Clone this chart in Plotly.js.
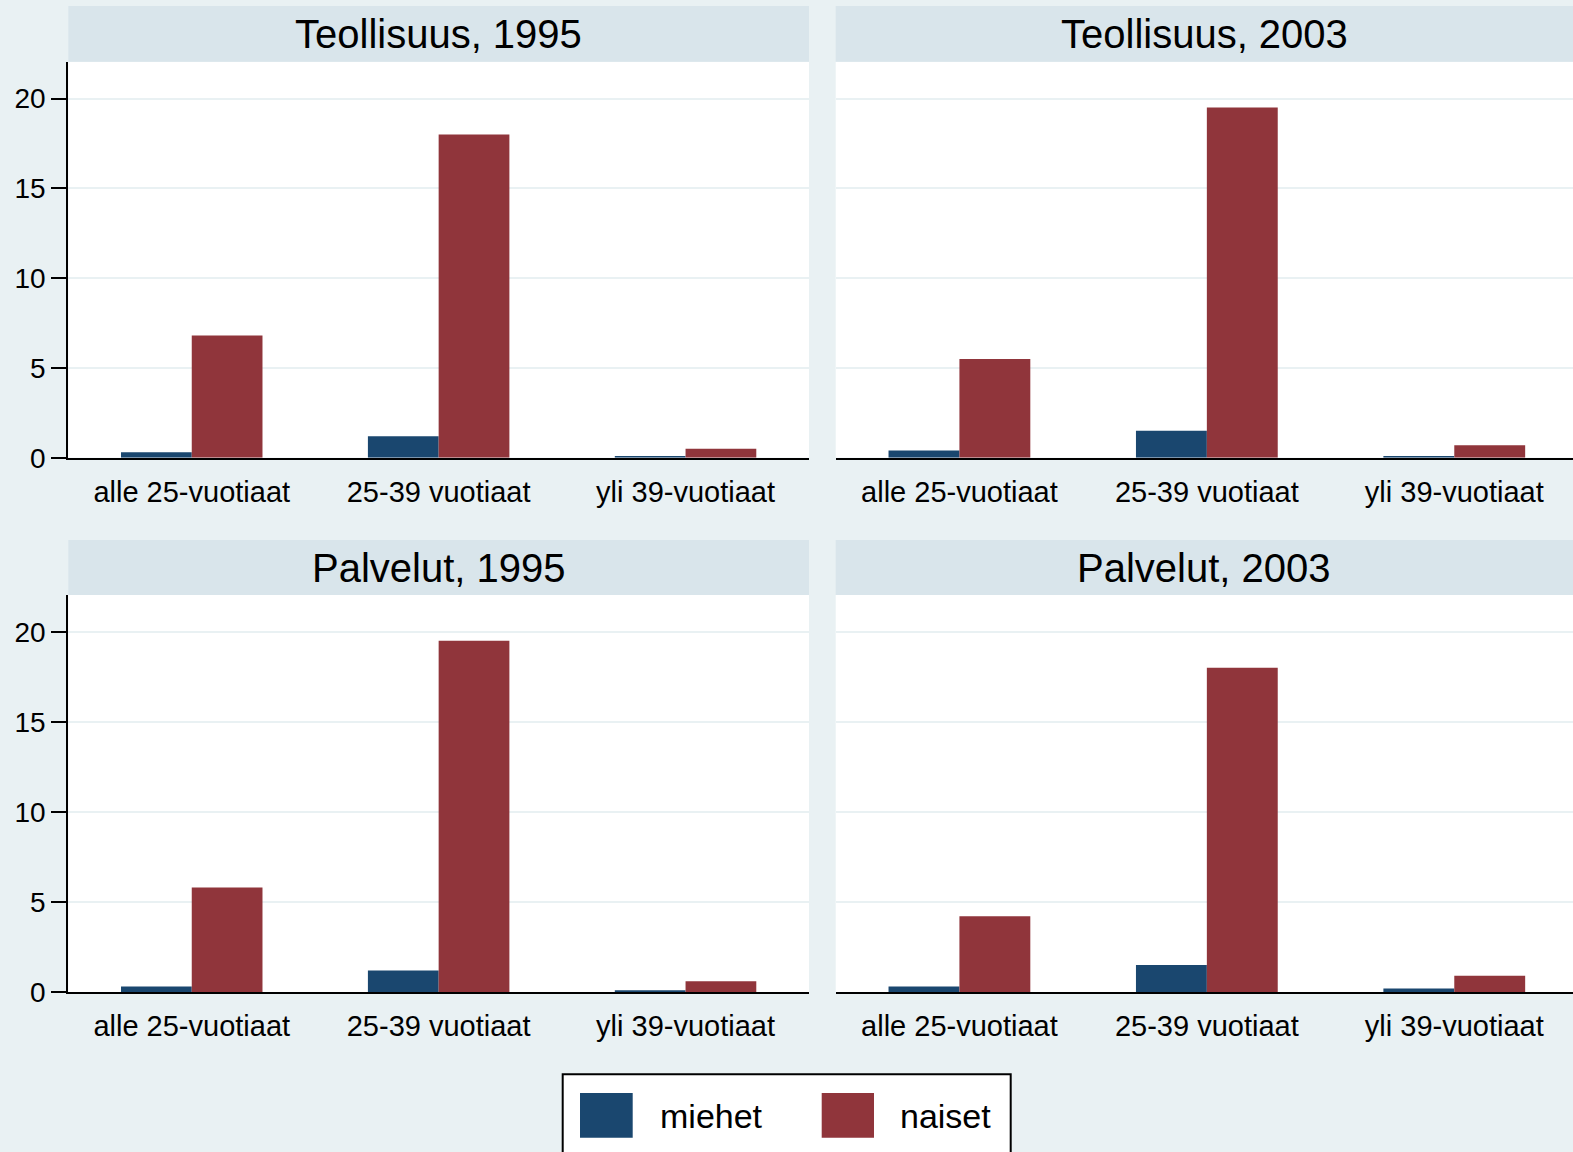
<!DOCTYPE html>
<html>
<head>
<meta charset="utf-8">
<script src="https://cdn.plot.ly/plotly-3.0.1.min.js"></script>
<style>html,body{margin:0;padding:0;background:#e9f1f3;overflow:hidden;}#chart{width:1578px;height:1152px;}</style>
</head>
<body>
<div id="chart"></div>
<script>
// ---- data ----
const categories = ['alle 25-vuotiaat', '25-39 vuotiaat', 'yli 39-vuotiaat'];
const panelTitles = ['Teollisuus, 1995', 'Teollisuus, 2003', 'Palvelut, 1995', 'Palvelut, 2003'];
const seriesNames = ['miehet', 'naiset'];
const miehet_T1995 = [0.3, 1.2, 0.1];
const naiset_T1995 = [6.8, 18.0, 0.5];
const miehet_T2003 = [0.4, 1.5, 0.1];
const naiset_T2003 = [5.5, 19.5, 0.7];
const miehet_P1995 = [0.3, 1.2, 0.1];
const naiset_P1995 = [5.8, 19.5, 0.6];
const miehet_P2003 = [0.3, 1.5, 0.2];
const naiset_P2003 = [4.2, 18.0, 0.9];
const yTickVals = [0, 5, 10, 15, 20];

// ---- style ----
const W = 1578, H = 1152;   // right panel runs slightly past the visible window
const FONT = 'Liberation Sans, Arial, sans-serif';
const COL_M = '#1a476f', COL_N = '#90353b';
const BG = '#e9f1f3', HEADER = '#d9e5eb', GRID = '#e9f1f3';

const px = v => v / W;
const py = v => 1 - v / H;

const xDomains = [[px(68.3), px(809)], [px(835.7), 1], [px(68.3), px(809)], [px(835.7), 1]];
const yDomains = [[py(457.7), py(62)], [py(457.7), py(62)], [py(992), py(595)], [py(992), py(595)]];
const headerY = [[py(61.7), py(6)], [py(61.7), py(6)], [py(595), py(540)], [py(595), py(540)]];

const panelData = [
  [miehet_T1995, naiset_T1995],
  [miehet_T2003, naiset_T2003],
  [miehet_P1995, naiset_P1995],
  [miehet_P2003, naiset_P2003]
];
const colors = [COL_M, COL_N];

const traces = [];
panelData.forEach((pair, i) => {
  const ax = i === 0 ? '' : String(i + 1);
  pair.forEach((vals, s) => {
    traces.push({
      type: 'bar',
      x: categories,
      y: vals,
      name: seriesNames[s],
      marker: {color: colors[s], line: {width: 0}},
      xaxis: 'x' + ax,
      yaxis: 'y' + ax,
      showlegend: false,
      hoverinfo: 'skip'
    });
  });
});

const layout = {
  width: W, height: H,
  margin: {l: 0, r: 0, t: 0, b: 0},
  paper_bgcolor: BG,
  plot_bgcolor: '#ffffff',
  barmode: 'group',
  bargap: 0.427,
  bargroupgap: 0,
  showlegend: false,
  font: {family: FONT, color: '#000'},
  shapes: [],
  annotations: []
};

for (let i = 0; i < 4; i++) {
  const ax = i === 0 ? '' : String(i + 1);
  const left = (i % 2 === 0);
  layout['xaxis' + ax] = {
    domain: xDomains[i],
    anchor: 'y' + ax,
    type: 'category',
    range: [-0.5, 2.5],
    showline: true, linecolor: '#000', linewidth: 2,
    ticks: '', showgrid: false, zeroline: false,
    ticklabelstandoff: 7,
    tickfont: {family: FONT, size: 29, color: '#000'},
    fixedrange: true
  };
  layout['yaxis' + ax] = {
    domain: yDomains[i],
    anchor: 'x' + ax,
    range: [0, 22.04],
    tickvals: yTickVals,
    showticklabels: left,
    ticks: left ? 'outside' : '',
    ticklen: 15, tickwidth: 2, tickcolor: '#000',
    showline: left, linecolor: '#000', linewidth: 2,
    showgrid: true, gridcolor: GRID, gridwidth: 2,
    zeroline: false,
    tickfont: {family: FONT, size: 28, color: '#000'},
    fixedrange: true
  };
  layout.shapes.push({
    type: 'rect', xref: 'paper', yref: 'paper', layer: 'below',
    x0: xDomains[i][0], x1: xDomains[i][1], y0: headerY[i][0], y1: headerY[i][1],
    fillcolor: HEADER, line: {width: 0}
  });
  layout.annotations.push({
    xref: 'paper', yref: 'paper',
    x: (xDomains[i][0] + xDomains[i][1]) / 2 - (i % 2 === 1 ? px(2.5) : 0),
    y: (headerY[i][0] + headerY[i][1]) / 2,
    xanchor: 'center', yanchor: 'middle',
    text: panelTitles[i], showarrow: false,
    font: {family: FONT, size: 40, color: '#000'}
  });
}

// legend box (drawn manually to match the large key symbols)
layout.shapes.push({
  type: 'rect', xref: 'paper', yref: 'paper',
  x0: px(562.7), x1: px(1010.7), y0: py(1165), y1: py(1074.3),
  fillcolor: '#ffffff', line: {color: '#000', width: 2}
});
const keyX = [[580, 632.7, 658], [821.7, 874, 898]];
seriesNames.forEach((nm, s) => {
  layout.shapes.push({
    type: 'rect', xref: 'paper', yref: 'paper',
    x0: px(keyX[s][0]), x1: px(keyX[s][1]), y0: py(1137.7), y1: py(1093),
    fillcolor: colors[s], line: {width: 0}
  });
  layout.annotations.push({
    xref: 'paper', yref: 'paper',
    x: px(keyX[s][2]), y: py(1115.5),
    xanchor: 'left', yanchor: 'middle',
    text: nm, showarrow: false,
    font: {family: FONT, size: 34, color: '#000'}
  });
});

Plotly.newPlot('chart', traces, layout, {displayModeBar: false, staticPlot: true});
</script>
</body>
</html>
